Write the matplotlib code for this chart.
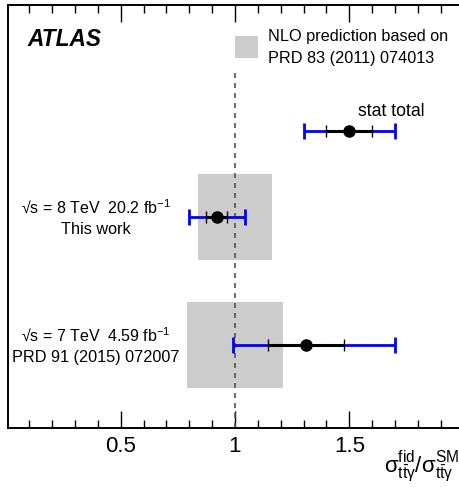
import matplotlib
matplotlib.use("Agg")
import matplotlib.pyplot as plt
from matplotlib.patches import Rectangle
from matplotlib.ticker import MultipleLocator

plt.rcParams['font.family'] = ['Liberation Sans', 'DejaVu Sans']
plt.rcParams['mathtext.fontset'] = 'custom'
plt.rcParams['mathtext.rm'] = 'Liberation Sans'
plt.rcParams['mathtext.it'] = 'Liberation Sans:italic'
plt.rcParams['mathtext.bf'] = 'Liberation Sans:bold'

# Data
rows = ["8 TeV", "7 TeV"]
row_y = [2.0, 1.0]
measured = [0.921, 1.311]
stat_err = [0.046, 0.167]
total_lo = [0.123, 0.321]
total_hi = [0.123, 0.389]
pred_center = [1.0, 1.0]
pred_err = [0.162, 0.21]
labels_top = ["√s = 8 TeV  20.2 $\\mathregular{fb^{-1}}$", "√s = 7 TeV  4.59 $\\mathregular{fb^{-1}}$"]
labels_bot = ["This work", "PRD 91 (2015) 072007"]
legend_point = 1.5
legend_stat = 0.1
legend_total = 0.2

W, H = 459, 487
fig = plt.figure(figsize=(W / 100, H / 100), dpi=100)
ax = fig.add_axes([8 / W, 1 - 428 / H, 1 - 8 / W + 0.01, 423 / H])
ax.set_xlim(0.007, 2.0)
ylo = 0.352
ax.set_ylim(ylo, ylo + 423 / 128)

box_color = "#cccccc"
half_h = 0.336
for i in range(len(rows)):
    y = row_y[i]
    ax.add_patch(Rectangle((pred_center[i] - pred_err[i], y - half_h), 2 * pred_err[i], 2 * half_h,
                           facecolor=box_color, edgecolor="none", zorder=1))

# dashed SM line
y_dash_top = ylo + (428 - 68) / 128
ax.plot([1, 1], [ylo, y_dash_top], color="#555555", ls=(0, (3, 3)), lw=1.2, zorder=2)


def draw_point(x, y, s, tlo, thi):
    ax.errorbar([x], [y], xerr=[[tlo], [thi]], fmt="none", ecolor="blue", elinewidth=2,
                capsize=6, capthick=2, zorder=3)
    ax.errorbar([x], [y], xerr=[[s], [s]], fmt="none", ecolor="black", elinewidth=2.2,
                capsize=4, capthick=1, zorder=4)
    ax.plot([x], [y], "o", color="black", ms=8, zorder=5)


for i in range(len(rows)):
    draw_point(measured[i], row_y[i], stat_err[i], total_lo[i], total_hi[i])

leg_y = ylo + (428 - 131) / 128
draw_point(legend_point, leg_y, legend_stat, legend_total, legend_total)
ax.text(1.538, ylo + (428 - 112) / 128, "stat total", fontsize=12.7, ha="left", va="center")

# row labels
for i in range(len(rows)):
    ax.text(0.39, row_y[i] + 0.08, labels_top[i], fontsize=11.5, ha="center", va="center")
    ax.text(0.39, row_y[i] - 0.1, labels_bot[i], fontsize=11.7, ha="center", va="center")

# legend
ax.add_patch(Rectangle((1.0, ylo + (428 - 58) / 128), 0.1, 22 / 128, facecolor=box_color,
                       edgecolor="none", zorder=1))
ax.text(1.145, ylo + (428 - 36) / 128, "NLO prediction based on", fontsize=11.7, ha="left", va="center")
ax.text(1.145, ylo + (428 - 58) / 128, "PRD 83 (2011) 074013", fontsize=11.7, ha="left", va="center")

ax.text(0.09, ylo + (428 - 40) / 128, "ATLAS", fontsize=16.3, fontweight="bold", fontstyle="italic",
        ha="left", va="center")

# axes styling
ax.set_xticks([0.5, 1.0, 1.5])
ax.xaxis.set_minor_locator(MultipleLocator(0.1))
ax.set_xticklabels(["0.5", "1", "1.5"], fontsize=16)
ax.tick_params(axis="x", which="major", direction="in", length=12, width=1, top=True, pad=6)
ax.tick_params(axis="x", which="minor", direction="in", length=6, width=1, top=True)
ax.set_yticks([])
ax.spines["right"].set_visible(False)
for s in ["left", "bottom", "top"]:
    ax.spines[s].set_linewidth(1.4)

fig.text(459 / W, 1 - 466 / H,
         r"$\mathrm{\sigma^{fid}_{t\bar{t}\gamma}/\sigma^{SM}_{t\bar{t}\gamma}}$",
         fontsize=16, ha="right", va="center")

fig.savefig("out.png", dpi=100)
